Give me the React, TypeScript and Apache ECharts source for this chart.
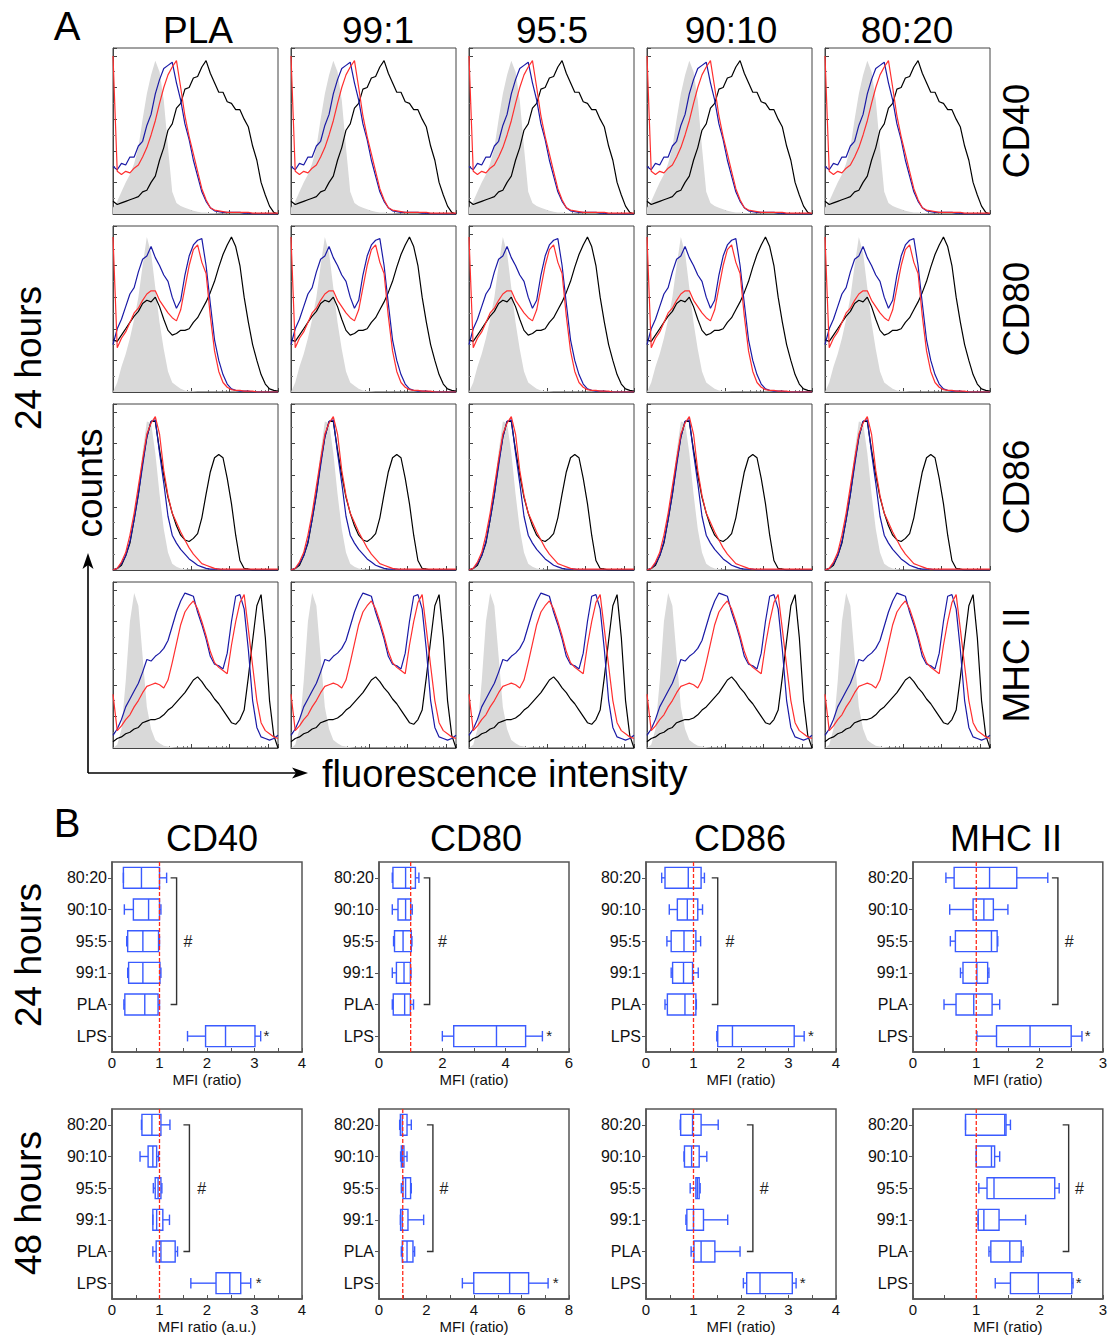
import React, { useEffect, useRef } from 'react';
import * as echarts from 'echarts';

const FONT = "'Liberation Sans', Arial, Helvetica, sans-serif";

// ---------------- Panel A : flow-cytometry histograms ----------------
const A_COLUMNS = ['PLA', '99:1', '95:5', '90:10', '80:20'];
const A_MARKERS = ['CD40', 'CD80', 'CD86', 'MHC II'];

// relative counts (% of max) per fluorescence bin (40 bins on a log scale)
const CD40_GRAY = [4, 8, 14, 20, 25, 32, 42, 60, 76, 88, 97, 90, 72, 42, 14, 7, 5, 4, 3, 2, 1.5, 1, 1, 0.5, 0.5, 0, 0, 0, 0, 0, 0, 0, 0, 0, 0, 0, 0, 0, 0, 0];
const CD40_BLUE = [30, 28, 32, 31, 36, 36, 43, 46, 56, 63, 76, 85, 92, 94, 96, 83, 72, 57, 47, 34, 24, 14, 8, 4, 2, 1.5, 1, 1, 1, 1, 1, 0.5, 0.5, 0, 0, 0, 0, 0, 0, 0];
const CD40_RED = [100, 27, 25, 27, 26, 29, 31, 36, 42, 50, 59, 70, 80, 88, 93, 97, 80, 62, 49, 38, 27, 16, 9, 4, 2.5, 2, 1.5, 1, 1, 1, 1, 1, 1, 0.5, 0.5, 0.5, 0.5, 0.5, 0.5, 0.5];
const CD40_BLACK = [8, 6, 7, 8, 9, 10, 11, 14, 15, 20, 24, 34, 42, 53, 57, 67, 70, 79, 80, 86, 87, 93, 97, 89, 83, 77, 77, 71, 70, 66, 66, 60, 55, 43, 34, 20, 12, 5, 1, 0];

const CD80_GRAY = [0, 6, 16, 24, 34, 46, 60, 80, 98, 88, 66, 44, 27, 13, 6, 4, 2, 1, 0.5, 0.5, 0, 0, 0, 0, 0, 0, 0, 0, 0, 0, 0, 0, 0, 0, 0, 0, 0, 0, 0, 0];
const CD80_BLUE = [30, 40, 46, 54, 62, 66, 76, 84, 86, 92, 85, 80, 74, 70, 60, 53, 58, 74, 86, 93, 96, 97, 80, 56, 33, 20, 11, 5, 2, 1, 0.5, 0.5, 0.5, 0, 0, 0, 0, 0, 0, 0];
const CD80_RED = [98, 28, 34, 38, 44, 50, 53, 58, 62, 64, 64, 58, 54, 50, 47, 45, 52, 66, 80, 90, 93, 82, 75, 48, 26, 13, 6, 3, 1.5, 1, 1, 0.5, 0.5, 0.5, 0, 0, 0, 0, 0, 0];
const CD80_BLACK = [33, 32, 36, 40, 44, 48, 51, 56, 58, 57, 60, 54, 46, 39, 36, 37, 39, 39, 40, 44, 47, 52, 57, 63, 70, 79, 87, 93, 98, 92, 80, 60, 44, 30, 20, 11, 5, 2, 1, 0.5];

const CD86_GRAY = [0, 1, 3, 8, 17, 33, 52, 75, 94, 93, 74, 48, 26, 11, 4, 2, 1, 0.5, 0, 0, 0, 0, 0, 0, 0, 0, 0, 0, 0, 0, 0, 0, 0, 0, 0, 0, 0, 0, 0, 0];
const CD86_BLUE = [0, 1, 4, 9, 18, 32, 48, 66, 84, 94, 95, 74, 55, 34, 22, 17, 13, 10, 7, 5, 3, 2, 1, 0.5, 0.5, 0.5, 0, 0, 0, 0, 0, 0, 0, 0, 0, 0, 0, 0, 0, 0];
const CD86_RED = [0, 1, 5, 11, 22, 36, 53, 70, 86, 93, 97, 86, 63, 47, 36, 30, 24, 19, 14, 10, 7, 4, 3, 2, 1, 0.5, 0.5, 0.5, 0.5, 0.5, 0.5, 0.5, 0.5, 0.5, 0.5, 0.5, 0.5, 0.5, 0.5, 0.5];
const CD86_BLACK = [0, 1, 3, 9, 17, 32, 48, 68, 84, 94, 94, 76, 60, 46, 36, 28, 22, 19, 18, 20, 23, 33, 48, 62, 71, 73, 71, 58, 42, 22, 6, 1, 0.5, 0, 0, 0, 0, 0, 0, 0];

const MHC_GRAY = [0, 2, 12, 42, 80, 98, 90, 58, 26, 12, 5, 3, 1.5, 1, 0.5, 0, 0, 0, 0, 0, 0, 0, 0, 0, 0, 0, 0, 0, 0, 0, 0, 0, 0, 0, 0, 0, 0, 0, 0, 0];
const MHC_BLUE = [8, 12, 18, 26, 31, 36, 41, 48, 56, 55, 58, 60, 63, 68, 77, 86, 93, 98, 97, 96, 86, 78, 69, 58, 53, 52, 50, 60, 80, 96, 97, 88, 62, 30, 13, 7, 6, 5, 6, 8];
const MHC_RED = [34, 11, 14, 18, 21, 26, 30, 35, 39, 40, 41, 40, 38, 43, 54, 66, 78, 86, 90, 93, 88, 80, 71, 61, 54, 51, 49, 47, 65, 80, 92, 97, 75, 52, 30, 16, 11, 9, 7, 6];
const MHC_BLACK = [4, 6, 7, 9, 10, 12, 13, 16, 17, 18, 18, 19, 21, 24, 26, 29, 32, 35, 39, 43, 45, 42, 38, 35, 31, 28, 24, 20, 16, 15, 18, 24, 45, 68, 90, 97, 70, 30, 8, 0];

const HIST_ROWS = [
  { gray: CD40_GRAY, black: CD40_BLACK, blue: CD40_BLUE, red: CD40_RED },
  { gray: CD80_GRAY, black: CD80_BLACK, blue: CD80_BLUE, red: CD80_RED },
  { gray: CD86_GRAY, black: CD86_BLACK, blue: CD86_BLUE, red: CD86_RED },
  { gray: MHC_GRAY, black: MHC_BLACK, blue: MHC_BLUE, red: MHC_RED },
];

// ---------------- Panel B : box plots ----------------
const B_CATEGORIES = ['80:20', '90:10', '95:5', '99:1', 'PLA', 'LPS'];
const B_MARKERS = ['CD40', 'CD80', 'CD86', 'MHC II'];
const B_TIMES = ['24 hours', '48 hours'];
const B_XMAX_24H = [4, 6, 4, 3];
const B_XMAX_48H = [4, 8, 4, 3];
const B_XSTEP_24H = [1, 2, 1, 1];
const B_XSTEP_48H = [1, 2, 1, 1];
const B_XNAME_24H = ['MFI (ratio)', 'MFI (ratio)', 'MFI (ratio)', 'MFI (ratio)'];
const B_XNAME_48H = ['MFI ratio (a.u.)', 'MFI (ratio)', 'MFI (ratio)', 'MFI (ratio)'];

// [min, Q1, median, Q3, max] per category (80:20, 90:10, 95:5, 99:1, PLA, LPS)
const CD40_24H = [[0.24, 0.24, 0.62, 1.0, 1.15], [0.26, 0.45, 0.77, 1.0, 1.03], [0.31, 0.33, 0.65, 0.98, 1.0], [0.33, 0.35, 0.65, 1.01, 1.03], [0.25, 0.27, 0.69, 0.97, 1.0], [1.59, 1.97, 2.39, 3.01, 3.13]];
const CD80_24H = [[0.42, 0.44, 0.84, 1.15, 1.26], [0.42, 0.6, 0.84, 1.0, 1.05], [0.46, 0.49, 0.76, 1.02, 1.04], [0.42, 0.55, 0.79, 0.99, 1.01], [0.42, 0.45, 0.81, 0.99, 1.09], [2.0, 2.36, 3.71, 4.63, 5.16]];
const CD86_24H = [[0.33, 0.4, 0.89, 1.16, 1.23], [0.49, 0.66, 0.87, 1.09, 1.19], [0.44, 0.53, 0.8, 1.05, 1.15], [0.53, 0.56, 0.79, 0.98, 1.1], [0.4, 0.45, 0.82, 1.05, 1.06], [1.49, 1.51, 1.82, 3.12, 3.33]];
const MHC_24H = [[0.52, 0.65, 1.21, 1.64, 2.13], [0.58, 0.95, 1.12, 1.27, 1.5], [0.59, 0.67, 1.24, 1.33, 1.34], [0.75, 0.79, 1.01, 1.18, 1.2], [0.49, 0.68, 0.96, 1.25, 1.37], [1.01, 1.32, 1.85, 2.5, 2.67]];
const CD40_48H = [[0.62, 0.63, 0.84, 1.03, 1.22], [0.59, 0.76, 0.86, 0.94, 0.98], [0.87, 0.91, 0.97, 1.03, 1.05], [0.86, 0.86, 0.94, 1.07, 1.21], [0.86, 0.93, 1.03, 1.33, 1.38], [1.66, 2.19, 2.48, 2.71, 2.92]];
const CD80_48H = [[0.87, 0.9, 0.98, 1.18, 1.36], [0.91, 0.94, 0.98, 1.05, 1.18], [0.94, 1.01, 1.12, 1.33, 1.36], [0.9, 0.91, 0.98, 1.22, 1.88], [0.94, 0.98, 1.18, 1.43, 1.5], [3.51, 3.99, 5.5, 6.3, 7.12]];
const CD86_48H = [[0.72, 0.73, 0.98, 1.16, 1.52], [0.8, 0.81, 0.96, 1.12, 1.28], [0.93, 1.05, 1.08, 1.12, 1.14], [0.84, 0.86, 1.0, 1.21, 1.72], [0.95, 1.01, 1.16, 1.45, 1.98], [2.05, 2.12, 2.4, 3.08, 3.16]];
const MHC_48H = [[0.83, 0.83, 1.45, 1.47, 1.54], [1.0, 1.0, 1.24, 1.29, 1.37], [1.04, 1.17, 1.28, 2.24, 2.31], [1.03, 1.03, 1.12, 1.36, 1.78], [1.2, 1.23, 1.53, 1.71, 1.74], [1.3, 1.54, 1.98, 2.51, 2.53]];

const BOXES_24H = [CD40_24H, CD80_24H, CD86_24H, MHC_24H];
const BOXES_48H = [CD40_48H, CD80_48H, CD86_48H, MHC_48H];

// significance annotations: bracket x, "#" x, "*" x (in data units)
const BRACKET_24H = [1.36, 1.6, 1.51, 2.29];
const HASH_24H = [1.6, 2.0, 1.77, 2.47];
const STAR_24H = [3.25, 5.37, 3.47, 2.76];
const BRACKET_48H = [1.63, 2.27, 2.25, 2.46];
const HASH_48H = [1.89, 2.74, 2.49, 2.63];
const STAR_48H = [3.09, 7.44, 3.3, 2.62];
const CONTROL_LEVEL = 1;

// ---------------- layout ----------------
const A_LEFTS = [113, 291, 469, 647, 825];
const A_TOPS = [48, 226, 404, 582];
const A_W = 165;
const A_H = 166;
const B_LEFTS = [112, 379, 646, 913];
const B_TOPS = [862, 1109];
const B_SIZE = 190;

const BOX_COLOR = '#3a5bff';

function txt(text: string, x: number, y: number, size: number, opts: any = {}) {
  const align = opts.align || 'center';
  return {
    type: 'text',
    x,
    y,
    rotation: opts.rotation || 0,
    z: 10,
    style: {
      text,
      font: `${size}px ${FONT}`,
      fill: '#000',
      textAlign: align,
      textVerticalAlign: 'middle',
      align,
      verticalAlign: 'middle',
    },
  };
}

function renderBox(params: any, api: any) {
  const ci = api.value(0);
  const lo = api.coord([api.value(1), ci]);
  const q1 = api.coord([api.value(2), ci]);
  const md = api.coord([api.value(3), ci]);
  const q3 = api.coord([api.value(4), ci]);
  const hi = api.coord([api.value(5), ci]);
  const band = api.size([0, 1])[1];
  const h = band * 0.66;
  const cap = h * 0.5;
  const y = md[1];
  const st = { stroke: BOX_COLOR, lineWidth: 1.4, fill: null };
  return {
    type: 'group',
    children: [
      { type: 'line', shape: { x1: lo[0], y1: y, x2: q1[0], y2: y }, style: st },
      { type: 'line', shape: { x1: q3[0], y1: y, x2: hi[0], y2: y }, style: st },
      { type: 'line', shape: { x1: lo[0], y1: y - cap / 2, x2: lo[0], y2: y + cap / 2 }, style: st },
      { type: 'line', shape: { x1: hi[0], y1: y - cap / 2, x2: hi[0], y2: y + cap / 2 }, style: st },
      { type: 'rect', shape: { x: q1[0], y: y - h / 2, width: q3[0] - q1[0], height: h }, style: { stroke: BOX_COLOR, lineWidth: 1.4, fill: 'rgba(0,0,0,0)' } },
      { type: 'line', shape: { x1: md[0], y1: y - h / 2, x2: md[0], y2: y + h / 2 }, style: st },
    ],
  };
}

function renderRefLine(params: any, api: any) {
  const cs = params.coordSys;
  const px = api.coord([api.value(0), 0])[0];
  return {
    type: 'line',
    shape: { x1: px, y1: cs.y, x2: px, y2: cs.y + cs.height },
    style: { stroke: '#ff2a1a', lineWidth: 1.3, lineDash: [4, 2] },
  };
}

function renderBracket(params: any, api: any) {
  const bx = api.value(0);
  const hx = api.value(2);
  const sx = api.value(3);
  const top = api.coord([bx, 0]);
  const bot = api.coord([bx, 4]);
  const hp = api.coord([hx, 2]);
  const sp = api.coord([sx, 5]);
  const tick = 6;
  return {
    type: 'group',
    children: [
      {
        type: 'polyline',
        shape: { points: [[top[0] - tick, top[1]], [top[0], top[1]], [bot[0], bot[1]], [bot[0] - tick, bot[1]]] },
        style: { stroke: '#333', lineWidth: 1.4, fill: null },
      },
      { type: 'text', x: hp[0], y: hp[1], style: { text: '#', font: `16px ${FONT}`, fill: '#222', textAlign: 'center', textVerticalAlign: 'middle', align: 'center', verticalAlign: 'middle' } },
      { type: 'text', x: sp[0], y: sp[1] - 1, style: { text: '*', font: `15px ${FONT}`, fill: '#222', textAlign: 'center', textVerticalAlign: 'middle', align: 'center', verticalAlign: 'middle' } },
    ],
  };
}

function buildOption() {
  const grid: any[] = [];
  const xAxis: any[] = [];
  const yAxis: any[] = [];
  const series: any[] = [];
  const axisColor = '#444';

  // Panel A
  HIST_ROWS.forEach((row, r) => {
    A_COLUMNS.forEach((_, c) => {
      const gi = grid.length;
      grid.push({ left: A_LEFTS[c], top: A_TOPS[r], width: A_W, height: A_H, show: true, borderColor: axisColor, borderWidth: 1 });
      const xi = xAxis.length;
      xAxis.push({ type: 'value', gridIndex: gi, min: 0, max: 39, show: false });
      xAxis.push({
        type: 'log', gridIndex: gi, min: 1, max: 17400, logBase: 10, position: 'bottom',
        axisLine: { show: true, onZero: false, lineStyle: { color: axisColor, width: 1 } },
        axisTick: { show: true, inside: true, length: 4, lineStyle: { color: axisColor } },
        minorTick: { show: true, splitNumber: 5, length: 2, lineStyle: { color: '#777' } },
        axisLabel: { show: false }, splitLine: { show: false }, minorSplitLine: { show: false },
      });
      const yi = yAxis.length;
      yAxis.push({
        type: 'value', gridIndex: gi, min: 0, max: 105, interval: 20,
        axisLine: { show: true, onZero: false, lineStyle: { color: axisColor, width: 1 } },
        axisTick: { show: true, inside: true, length: 4, lineStyle: { color: axisColor } },
        minorTick: { show: true, splitNumber: 2, length: 2, lineStyle: { color: '#777' } },
        axisLabel: { show: false }, splitLine: { show: false },
      });
      const base = { type: 'line', xAxisIndex: xi, yAxisIndex: yi, symbol: 'none', showSymbol: false, silent: true, animation: false };
      series.push({ ...base, data: row.gray.map((v, i) => [i, v]), lineStyle: { width: 0, color: '#d9d9d9' }, itemStyle: { color: '#d9d9d9' }, areaStyle: { color: '#d9d9d9', opacity: 1 }, z: 1 });
      series.push({ ...base, data: row.black.map((v, i) => [i, v]), lineStyle: { width: 1.2, color: '#000' }, itemStyle: { color: '#000' }, z: 2 });
      series.push({ ...base, data: row.blue.map((v, i) => [i, v]), lineStyle: { width: 1.2, color: '#1a1aa6' }, itemStyle: { color: '#1a1aa6' }, z: 3 });
      series.push({ ...base, data: row.red.map((v, i) => [i, v]), lineStyle: { width: 1.2, color: '#ff2f2f' }, itemStyle: { color: '#ff2f2f' }, z: 4 });
    });
  });

  // Panel B
  const bRows = [
    { boxes: BOXES_24H, xmax: B_XMAX_24H, step: B_XSTEP_24H, names: B_XNAME_24H, br: BRACKET_24H, hs: HASH_24H, st: STAR_24H },
    { boxes: BOXES_48H, xmax: B_XMAX_48H, step: B_XSTEP_48H, names: B_XNAME_48H, br: BRACKET_48H, hs: HASH_48H, st: STAR_48H },
  ];
  bRows.forEach((row, r) => {
    B_MARKERS.forEach((_, c) => {
      const gi = grid.length;
      grid.push({ left: B_LEFTS[c], top: B_TOPS[r], width: B_SIZE, height: B_SIZE, show: true, borderColor: '#555', borderWidth: 1.5 });
      const xi = xAxis.length;
      xAxis.push({
        type: 'value', gridIndex: gi, min: 0, max: row.xmax[c], interval: row.step[c], position: 'bottom',
        name: row.names[c], nameLocation: 'middle', nameGap: 20,
        nameTextStyle: { fontSize: 15, fontFamily: FONT, color: '#111' },
        axisLine: { show: true, onZero: false, lineStyle: { color: '#555', width: 1.5 } },
        axisTick: { show: true, inside: true, length: 4, lineStyle: { color: '#555' } },
        minorTick: { show: true, splitNumber: 2, length: 4, lineStyle: { color: '#555' } },
        axisLabel: { fontSize: 15, fontFamily: FONT, color: '#111', margin: 3 },
        splitLine: { show: false },
      });
      const yi = yAxis.length;
      yAxis.push({
        type: 'category', gridIndex: gi, data: B_CATEGORIES, inverse: true,
        axisLine: { show: true, onZero: false, lineStyle: { color: '#555', width: 1.5 } },
        axisTick: { show: true, inside: false, alignWithLabel: true, length: 4, lineStyle: { color: '#555' } },
        axisLabel: { fontSize: 16, fontFamily: FONT, color: '#111', margin: 5 },
        splitLine: { show: false },
      });
      const boxes = row.boxes[c];
      series.push({
        type: 'custom', xAxisIndex: xi, yAxisIndex: yi, renderItem: renderBox, clip: false, silent: true,
        encode: { x: [1, 2, 3, 4, 5], y: 0 },
        data: B_CATEGORIES.map((_, k) => [k, ...boxes[k]]), z: 3,
      });
      series.push({
        type: 'custom', xAxisIndex: xi, yAxisIndex: yi, renderItem: renderRefLine, clip: false, silent: true,
        encode: { x: 0, y: 1 }, data: [[CONTROL_LEVEL, 0]], z: 4,
      });
      series.push({
        type: 'custom', xAxisIndex: xi, yAxisIndex: yi, renderItem: renderBracket, clip: false, silent: true,
        encode: { x: [0, 2, 3], y: 1 }, data: [[row.br[c], 0, row.hs[c], row.st[c]]], z: 4,
      });
    });
  });

  // Text and decorations
  const graphic: any[] = [];
  graphic.push(txt('A', 67, 26, 40));
  const aTitleX = [198, 378, 552, 731, 907];
  A_COLUMNS.forEach((t, i) => graphic.push(txt(t, aTitleX[i], 30, 37)));
  A_MARKERS.forEach((t, i) => graphic.push(txt(t, 1016, A_TOPS[i] + A_H / 2, 37, { rotation: Math.PI / 2 })));
  graphic.push(txt('24 hours', 28, 358, 37, { rotation: Math.PI / 2 }));
  graphic.push(txt('counts', 89, 483, 37, { rotation: Math.PI / 2 }));
  graphic.push(txt('fluorescence intensity', 322, 774, 38, { align: 'left' }));
  graphic.push({ type: 'line', shape: { x1: 88, y1: 773, x2: 88, y2: 560 }, style: { stroke: '#000', lineWidth: 1.6 } });
  graphic.push({ type: 'line', shape: { x1: 88, y1: 773, x2: 300, y2: 773 }, style: { stroke: '#000', lineWidth: 1.6 } });
  graphic.push({ type: 'polygon', shape: { points: [[88, 553], [82.5, 569], [88, 565], [93.5, 569]] }, style: { fill: '#000' } });
  graphic.push({ type: 'polygon', shape: { points: [[308, 773], [292, 767.5], [296, 773], [292, 778.5]] }, style: { fill: '#000' } });

  graphic.push(txt('B', 67, 823, 40));
  const bTitleX = [212, 476, 740, 1006];
  B_MARKERS.forEach((t, i) => graphic.push(txt(t, bTitleX[i], 838, 36)));
  graphic.push(txt(B_TIMES[0], 28, 955, 37, { rotation: Math.PI / 2 }));
  graphic.push(txt(B_TIMES[1], 28, 1203, 37, { rotation: Math.PI / 2 }));

  return { animation: false, backgroundColor: '#fff', grid, xAxis, yAxis, series, graphic };
}

export default function App() {
  const ref = useRef<HTMLDivElement>(null);
  useEffect(() => {
    const chart = echarts.init(ref.current as HTMLDivElement, null, { renderer: 'svg' });
    chart.setOption(buildOption() as any);
    return () => chart.dispose();
  }, []);
  return <div ref={ref} style={{ position: 'absolute', left: 0, top: 0, width: 1110, height: 1337, background: '#fff' }} />;
}
